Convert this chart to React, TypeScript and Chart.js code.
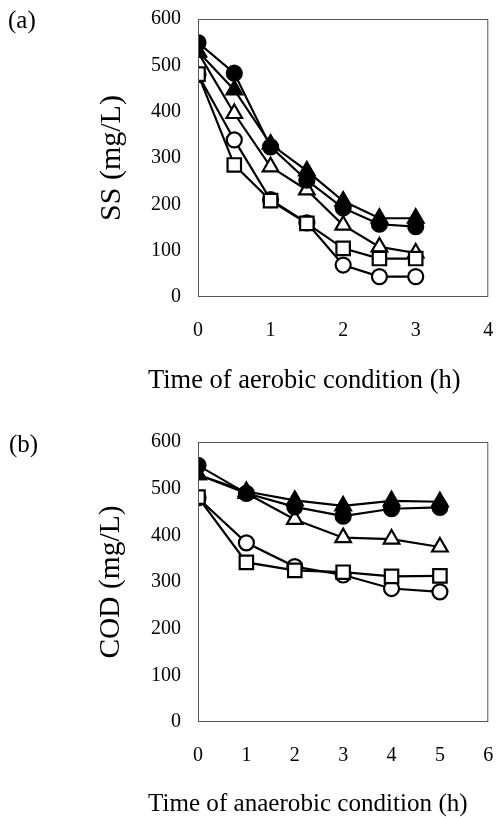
import React, { useEffect, useRef } from "react";
import { Chart, registerables } from "chart.js";

Chart.register(...registerables);

// ---- Data: panel (a) SS vs time of aerobic condition ----
const X_AEROBIC = [0, 0.5, 1, 1.5, 2, 2.5, 3];
const SS_FILLED_CIRCLE = [549, 483, 324, 252, 192, 157, 152];
const SS_FILLED_TRIANGLE = [530, 447, 330, 272, 207, 170, 170];
const SS_OPEN_TRIANGLE = [528, 396, 281, 231, 155, 108, 95];
const SS_OPEN_CIRCLE = [480, 339, 210, 160, 69, 44, 44];
const SS_OPEN_SQUARE = [481, 285, 208, 159, 105, 83, 83];

// ---- Data: panel (b) COD vs time of anaerobic condition ----
const X_ANAEROBIC = [0, 1, 2, 3, 4, 5];
const COD_FILLED_CIRCLE = [550, 490, 461, 441, 457, 460];
const COD_FILLED_TRIANGLE = [530, 494, 475, 463, 474, 472];
const COD_OPEN_TRIANGLE = [530, 490, 434, 395, 392, 375];
const COD_OPEN_CIRCLE = [480, 384, 333, 315, 286, 279];
const COD_OPEN_SQUARE = [482, 342, 325, 321, 312, 313];

const SERIF = "'Liberation Serif', 'DejaVu Serif', serif";

const boxPlugin = {
  id: "box",
  afterDraw(chart: any) {
    const { ctx, chartArea } = chart;
    ctx.save();
    ctx.strokeStyle = "#555";
    ctx.lineWidth = 1;
    ctx.strokeRect(
      chartArea.left + 0.5,
      chartArea.top + 0.5,
      chartArea.right - chartArea.left - 1,
      chartArea.bottom - chartArea.top - 1
    );
    ctx.restore();
  },
};

function pts(xs: number[], ys: number[]) {
  return xs.map((x, i) => ({ x, y: ys[i] }));
}

function makeDatasets(
  xs: number[],
  oSquare: number[],
  fCircle: number[],
  fTriangle: number[],
  oTriangle: number[],
  oCircle: number[]
) {
  const base = {
    borderColor: "#000",
    borderWidth: 2.2,
    pointBorderWidth: 2.2,
    pointBorderColor: "#000",
    tension: 0,
    fill: false,
  };
  // first dataset is drawn on top
  return [
    { ...base, label: "open square", data: pts(xs, oSquare), pointStyle: "rect", pointRadius: 9.5, pointBackgroundColor: "#fff" },
    { ...base, label: "filled circle", data: pts(xs, fCircle), pointStyle: "circle", pointRadius: 7.5, pointBackgroundColor: "#000" },
    { ...base, label: "filled triangle", data: pts(xs, fTriangle), pointStyle: "triangle", pointRadius: 9, pointBackgroundColor: "#000" },
    { ...base, label: "open triangle", data: pts(xs, oTriangle), pointStyle: "triangle", pointRadius: 9, pointBackgroundColor: "#fff" },
    { ...base, label: "open circle", data: pts(xs, oCircle), pointStyle: "circle", pointRadius: 7.5, pointBackgroundColor: "#fff" },
  ];
}

type PanelProps = {
  height: number;
  padTop: number;
  xAxisHeight: number;
  xMax: number;
  yTitle: string;
  yTitleSize: number;
  datasets: any[];
};

function zeroPad(s: any) {
  s.paddingTop = 0;
  s.paddingBottom = 0;
  s.paddingLeft = 0;
  s.paddingRight = 0;
}

function Panel({ height, padTop, xAxisHeight, xMax, yTitle, yTitleSize, datasets }: PanelProps) {
  const ref = useRef<HTMLCanvasElement | null>(null);
  useEffect(() => {
    if (!ref.current) return;
    const chart = new Chart(ref.current, {
      type: "line",
      data: { datasets },
      plugins: [boxPlugin],
      options: {
        responsive: false,
        animation: false,
        layout: { padding: { top: padTop, right: 8, left: 0, bottom: 0 } },
        plugins: { legend: { display: false }, tooltip: { enabled: false } },
        scales: {
          x: {
            type: "linear",
            min: 0,
            max: xMax,
            grid: { display: false, drawTicks: false },
            border: { display: false },
            ticks: { stepSize: 1, color: "#000", padding: 22, font: { family: SERIF, size: 20 } },
            afterFit: (s: any) => {
              s.height = xAxisHeight;
              zeroPad(s);
            },
          },
          y: {
            type: "linear",
            min: 0,
            max: 600,
            grid: { display: false, drawTicks: false },
            border: { display: false },
            ticks: { stepSize: 100, color: "#000", padding: 17, font: { family: SERIF, size: 20 } },
            title: {
              display: true,
              text: yTitle,
              color: "#000",
              font: { family: SERIF, size: yTitleSize },
              padding: { top: 94, bottom: 0 },
            },
            afterFit: (s: any) => {
              s.width = 198;
              zeroPad(s);
            },
          },
        },
      } as any,
    });
    return () => chart.destroy();
  }, []);
  return <canvas ref={ref} width={500} height={height} style={{ display: "block", width: 500, height }} />;
}

export default function App() {
  const labelStyle: React.CSSProperties = {
    position: "absolute",
    left: 8,
    fontFamily: SERIF,
    fontSize: 24,
    lineHeight: "24px",
    color: "#000",
    whiteSpace: "nowrap",
  };
  return (
    <div style={{ position: "absolute", left: 0, top: 0, width: 500, height: 818, background: "#fff" }}>
      <div style={{ position: "absolute", left: 0, top: 0 }}>
        <Panel
          height={400}
          padTop={19}
          xAxisHeight={103}
          xMax={4}
          yTitle="SS (mg/L)"
          yTitleSize={30}
          datasets={makeDatasets(X_AEROBIC, SS_OPEN_SQUARE, SS_FILLED_CIRCLE, SS_FILLED_TRIANGLE, SS_OPEN_TRIANGLE, SS_OPEN_CIRCLE)}
        />
      </div>
      <div style={{ position: "absolute", left: 0, top: 400 }}>
        <Panel
          height={418}
          padTop={42}
          xAxisHeight={96}
          xMax={6}
          yTitle="COD (mg/L)"
          yTitleSize={29.5}
          datasets={makeDatasets(X_ANAEROBIC, COD_OPEN_SQUARE, COD_FILLED_CIRCLE, COD_FILLED_TRIANGLE, COD_OPEN_TRIANGLE, COD_OPEN_CIRCLE)}
        />
      </div>
      <div style={{ ...labelStyle, top: 8, fontSize: 25 }}>(a)</div>
      <div style={{ ...labelStyle, top: 432, left: 9, fontSize: 25 }}>(b)</div>
      <div style={{ ...labelStyle, left: 148, top: 366, fontSize: 26.5, lineHeight: "26.5px" }}>
        Time of aerobic condition (h)
      </div>
      <div style={{ ...labelStyle, left: 148, top: 790, fontSize: 25.1, lineHeight: "25.1px" }}>
        Time of anaerobic condition (h)
      </div>
    </div>
  );
}
